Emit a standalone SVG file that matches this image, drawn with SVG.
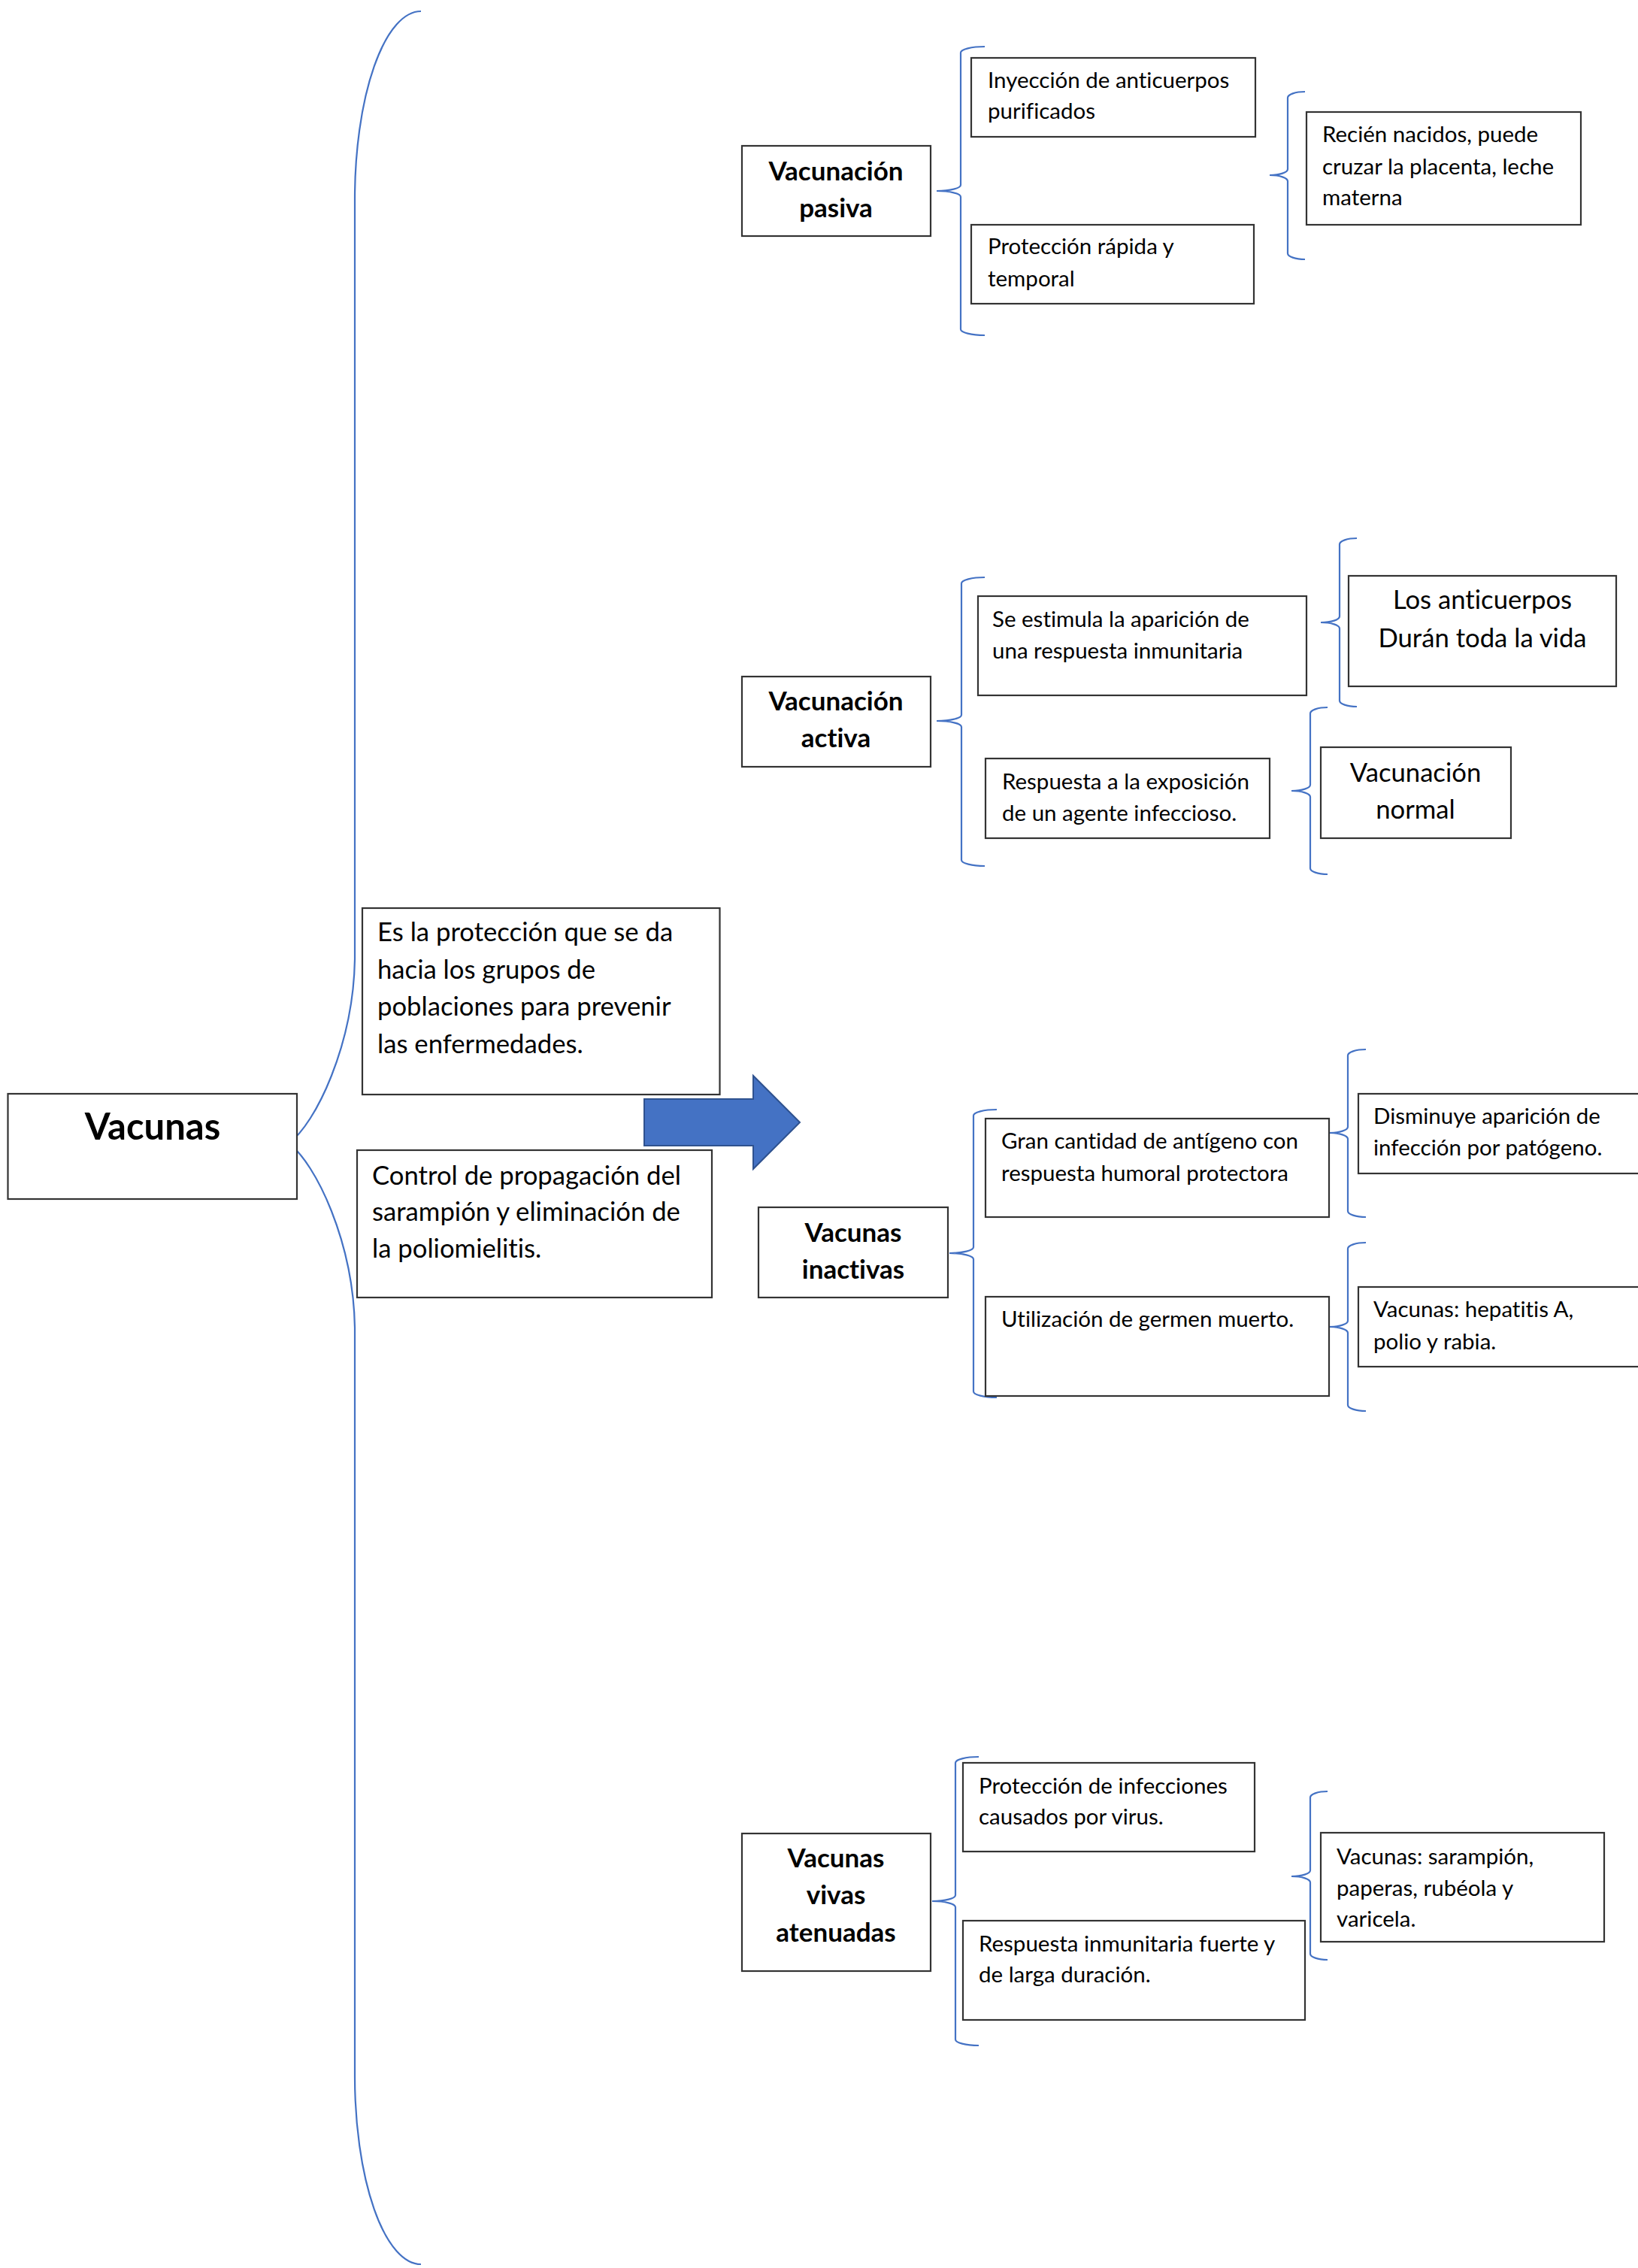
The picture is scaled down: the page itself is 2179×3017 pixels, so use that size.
<svg xmlns="http://www.w3.org/2000/svg" width="2179" height="3017" viewBox="0 0 2179 3017">
<style>
.box{fill:#fff;stroke:#333;stroke-width:2.2}
.br{fill:none;stroke:#4472C4;stroke-width:2.2}
.t{font-family:Lato,"Liberation Sans",sans-serif;fill:#000;font-variant-ligatures:none;font-feature-settings:"liga" 0,"dlig" 0}
.s{font-size:29.5px}
.m{font-size:34.7px}
.h{font-size:35px;font-weight:bold;text-anchor:middle}
.c{text-anchor:middle}
</style>
<rect width="2179" height="3017" fill="#fff"/>
<g id="connectors">
<path class="br" d="M560,15 A88,250 0 0 0 472,265 L472,1276 C470,1390 420,1495 384,1521 C420,1547 470,1652 472,1766 L472,2762 A88,250 0 0 0 560,3012"/>
<path class="br" d="M1310,62 A32,8 0 0 0 1278,70 L1278,246 A32,8 0 0 1 1246,254 A32,8 0 0 1 1278,262 L1278,438 A32,8 0 0 0 1310,446"/>
<path class="br" d="M1736,122 A23,8 0 0 0 1713,130 L1713,225 A24,8 0 0 1 1689,233 A24,8 0 0 1 1713,241 L1713,337 A23,8 0 0 0 1736,345"/>
<path class="br" d="M1310,768 A31,8 0 0 0 1279,776 L1279,951 A33,8 0 0 1 1246,959 A33,8 0 0 1 1279,967 L1279,1144 A31,8 0 0 0 1310,1152"/>
<path class="br" d="M1805,716 A23,8 0 0 0 1782,724 L1782,820 A25,8 0 0 1 1757,828 A25,8 0 0 1 1782,836 L1782,932 A23,8 0 0 0 1805,940"/>
<path class="br" d="M1766,941 A23,8 0 0 0 1743,949 L1743,1044 A25,8 0 0 1 1718,1052 A25,8 0 0 1 1743,1060 L1743,1155 A23,8 0 0 0 1766,1163"/>
<path class="br" d="M1326,1476 A31,8 0 0 0 1295,1484 L1295,1659 A32,8 0 0 1 1263,1667 A32,8 0 0 1 1295,1675 L1295,1851 A31,8 0 0 0 1326,1859"/>
<path class="br" d="M1817,1396 A24,8 0 0 0 1793,1404 L1793,1499 A25,8 0 0 1 1768,1507 A25,8 0 0 1 1793,1515 L1793,1611 A24,8 0 0 0 1817,1619"/>
<path class="br" d="M1817,1653 A24,8 0 0 0 1793,1661 L1793,1757 A25,8 0 0 1 1768,1765 A25,8 0 0 1 1793,1773 L1793,1869 A24,8 0 0 0 1817,1877"/>
<path class="br" d="M1302,2337 A31,8 0 0 0 1271,2345 L1271,2521 A31,8 0 0 1 1240,2529 A31,8 0 0 1 1271,2537 L1271,2713 A31,8 0 0 0 1302,2721"/>
<path class="br" d="M1766,2383 A23,8 0 0 0 1743,2391 L1743,2488 A25,8 0 0 1 1718,2496 A25,8 0 0 1 1743,2504 L1743,2599 A23,8 0 0 0 1766,2607"/>
<polygon id="arrow" points="857,1462 1002,1462 1002,1431 1064,1493 1002,1555 1002,1524 857,1524" fill="#4472C4" stroke="#2F528F" stroke-width="2"/>
</g>
<g id="vacunas">
<rect class="box" x="10.5" y="1455" width="384.5" height="140"/>
<text class="t c" x="203" y="1516" font-size="49" font-weight="bold">Vacunas</text>
</g>
<g id="definicion">
<rect class="box" x="482" y="1208" width="475.5" height="248"/>
<text class="t m" x="502" y="1252">Es la protección que se da</text>
<text class="t m" x="502" y="1302">hacia los grupos de</text>
<text class="t m" x="502" y="1351">poblaciones para prevenir</text>
<text class="t m" x="502" y="1401">las enfermedades.</text>
</g>
<g id="control">
<rect class="box" x="475" y="1530" width="472" height="196"/>
<text class="t m" x="495" y="1576">Control de propagación del</text>
<text class="t m" x="495" y="1624">sarampión y eliminación de</text>
<text class="t m" x="495" y="1673">la poliomielitis.</text>
</g>
<g id="pasiva">
<rect class="box" x="987" y="194" width="251" height="120"/>
<text class="t h" x="1112" y="240">Vacunación</text>
<text class="t h" x="1112" y="289">pasiva</text>
</g>
<g id="pasiva-1">
<rect class="box" x="1292" y="77" width="378" height="105"/>
<text class="t s" x="1314" y="117">Inyección de anticuerpos</text>
<text class="t s" x="1314" y="158">purificados</text>
</g>
<g id="pasiva-2">
<rect class="box" x="1292" y="299" width="376" height="105"/>
<text class="t s" x="1314" y="338">Protección rápida y</text>
<text class="t s" x="1314" y="381">temporal</text>
</g>
<g id="pasiva-3">
<rect class="box" x="1738" y="149" width="365" height="150"/>
<text class="t s" x="1759" y="189">Recién nacidos, puede</text>
<text class="t s" x="1759" y="232">cruzar la placenta, leche</text>
<text class="t s" x="1759" y="273">materna</text>
</g>
<g id="activa">
<rect class="box" x="987" y="900" width="251" height="120"/>
<text class="t h" x="1112" y="945">Vacunación</text>
<text class="t h" x="1112" y="994">activa</text>
</g>
<g id="activa-1">
<rect class="box" x="1301" y="793" width="437" height="132"/>
<text class="t s" x="1320" y="834">Se estimula la aparición de</text>
<text class="t s" x="1320" y="876">una respuesta inmunitaria</text>
</g>
<g id="activa-2">
<rect class="box" x="1311" y="1009" width="378" height="106"/>
<text class="t s" x="1333" y="1050">Respuesta a la exposición</text>
<text class="t s" x="1333" y="1092">de un agente infeccioso.</text>
</g>
<g id="activa-3">
<rect class="box" x="1794" y="766" width="356" height="147"/>
<text class="t m c" x="1972" y="810">Los anticuerpos</text>
<text class="t m c" x="1972" y="861">Durán toda la vida</text>
</g>
<g id="activa-4">
<rect class="box" x="1757" y="994" width="253" height="121"/>
<text class="t m c" x="1883" y="1040">Vacunación</text>
<text class="t m c" x="1883" y="1089">normal</text>
</g>
<g id="inactivas">
<rect class="box" x="1009" y="1606" width="252" height="120"/>
<text class="t h" x="1135" y="1652">Vacunas</text>
<text class="t h" x="1135" y="1701">inactivas</text>
</g>
<g id="inactivas-1">
<rect class="box" x="1311" y="1488" width="457" height="131"/>
<text class="t s" x="1332" y="1528">Gran cantidad de antígeno con</text>
<text class="t s" x="1332" y="1571">respuesta humoral protectora</text>
</g>
<g id="inactivas-2">
<rect class="box" x="1311" y="1725" width="457" height="132"/>
<text class="t s" x="1332" y="1765">Utilización de germen muerto.</text>
</g>
<g id="inactivas-3">
<rect class="box" x="1807" y="1455" width="380" height="106"/>
<text class="t s" x="1827" y="1495">Disminuye aparición de</text>
<text class="t s" x="1827" y="1537">infección por patógeno.</text>
</g>
<g id="inactivas-4">
<rect class="box" x="1807" y="1712" width="380" height="106"/>
<text class="t s" x="1827" y="1752">Vacunas: hepatitis A,</text>
<text class="t s" x="1827" y="1795">polio y rabia.</text>
</g>
<g id="vivas">
<rect class="box" x="987" y="2439" width="251" height="183"/>
<text class="t h" x="1112" y="2484">Vacunas</text>
<text class="t h" x="1112" y="2533">vivas</text>
<text class="t h" x="1112" y="2583">atenuadas</text>
</g>
<g id="vivas-1">
<rect class="box" x="1281" y="2345" width="388" height="118"/>
<text class="t s" x="1302" y="2386">Protección de infecciones</text>
<text class="t s" x="1302" y="2427">causados por virus.</text>
</g>
<g id="vivas-2">
<rect class="box" x="1281" y="2555" width="455" height="132"/>
<text class="t s" x="1302" y="2596">Respuesta inmunitaria fuerte y</text>
<text class="t s" x="1302" y="2637">de larga duración.</text>
</g>
<g id="vivas-3">
<rect class="box" x="1757" y="2438" width="377" height="145"/>
<text class="t s" x="1778" y="2480">Vacunas: sarampión,</text>
<text class="t s" x="1778" y="2522">paperas, rubéola y</text>
<text class="t s" x="1778" y="2563">varicela.</text>
</g>
</svg>
